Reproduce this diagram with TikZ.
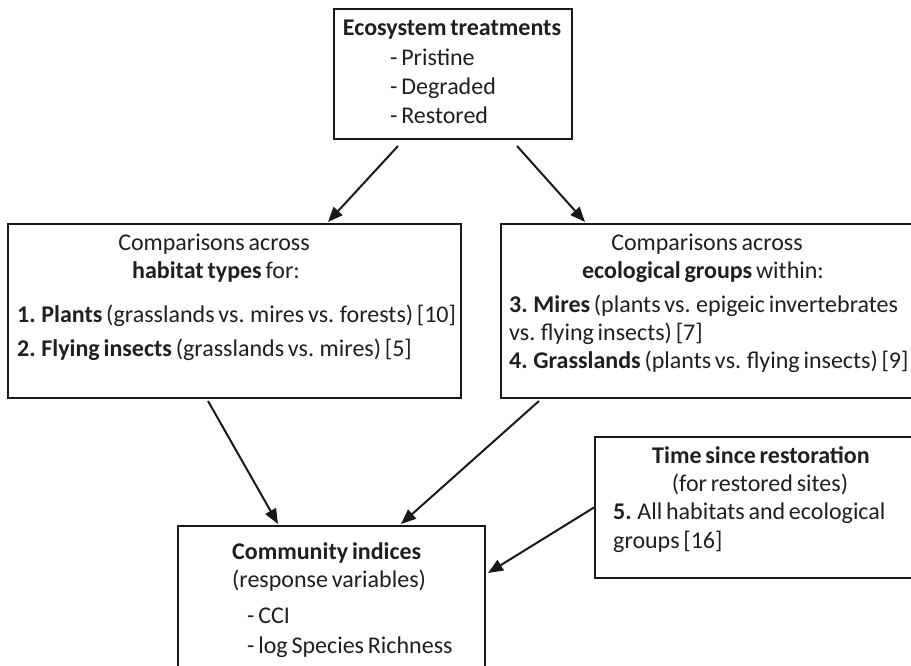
\documentclass[tikz,border=0pt]{standalone}
\usepackage{fontspec}
\setmainfont{Carlito}[WordSpace=0.7]
\usetikzlibrary{arrows.meta}
\begin{document}
\begin{tikzpicture}[x=1pt,y=-1pt,
  box/.style={draw=black!90, line width=2pt, inner sep=0pt, anchor=north west},
  txt/.style={inner sep=0pt, font=\fontsize{24}{29}\selectfont, text=black!88},
  lt/.style={txt, anchor=base west},
  ct/.style={txt, anchor=base},
  arr/.style={draw=black!90, line width=2pt, -{Triangle[length=15pt,width=12pt]}}]
\useasboundingbox (0,0) rectangle (911,666);
% boxes
\node[box, minimum width=238pt, minimum height=130pt] (eco) at (333,8) {};
\node[box, minimum width=453pt, minimum height=174pt] (hab) at (7,223) {};
\node[box, minimum width=420pt, minimum height=174pt] (grp) at (500,223) {};
\node[box, minimum width=307pt, minimum height=160pt] (comm) at (177,525) {};
\node[box, minimum width=330pt, minimum height=141pt] (time) at (594,436) {};
% top box text
\node[ct] (e1) at (452,36) {\bfseries Ecosystem treatments};
\node[lt] (e2) at (390,66) {- Pristine};
\node[lt] (e3) at (390,95) {- Degraded};
\node[lt] (e4) at (390,124) {- Restored};
% habitat box text
\node[ct] (h1) at (214,251) {Comparisons across};
\node[ct] (h2) at (216,278) {\textbf{habitat types} for:};
\node[lt] (h3) at (17,322) {\textbf{1. Plants} (grasslands vs. mires vs. forests) [10]};
\node[lt] (h4) at (17,356) {\textbf{2. Flying insects} (grasslands vs. mires) [5]};
% groups box text
\node[ct] (g1) at (707,250) {Comparisons across};
\node[ct] (g2) at (703,278) {\textbf{ecological groups} within:};
\node[lt] (g3) at (509,312) {\textbf{3. Mires} (plants vs. epigeic invertebrates};
\node[lt] (g4) at (509,340) {vs. flying insects) [7]};
\node[lt] (g5) at (509,368) {\textbf{4. Grasslands} (plants vs. flying insects) [9]};
% time box text
\node[ct] (t1) at (761,463) {\bfseries Time since restoration};
\node[ct] (t2) at (760,491) {(for restored sites)};
\node[lt] (t3) at (613,519) {\textbf{5.} All habitats and ecological};
\node[lt] (t4) at (613,548) {groups [16]};
% community box text
\node[lt] (c1) at (232,559) {\bfseries Community indices};
\node[lt] (c2) at (232,587) {(response variables)};
\node[lt] (c3) at (247,623) {- CCI};
\node[lt] (c4) at (247,653) {- log Species Richness};
% connectors
\draw[arr] ([xshift=-55pt,yshift=-6pt]eco.south) -- ([xshift=93.5pt,yshift=1pt]hab.north);
\draw[arr] ([xshift=64pt,yshift=-6pt]eco.south) -- ([xshift=-126pt,yshift=1pt]grp.north);
\draw[arr] ([xshift=-26.5pt,yshift=-2pt]hab.south) -- ([xshift=-53.5pt,yshift=1pt]comm.north);
\draw[arr] ([xshift=-172pt,yshift=-2pt]grp.south) -- ([xshift=69.5pt,yshift=1pt]comm.north);
\draw[arr] (time.west) -- ([xshift=2pt,yshift=33pt]comm.east);
\end{tikzpicture}
\end{document}
